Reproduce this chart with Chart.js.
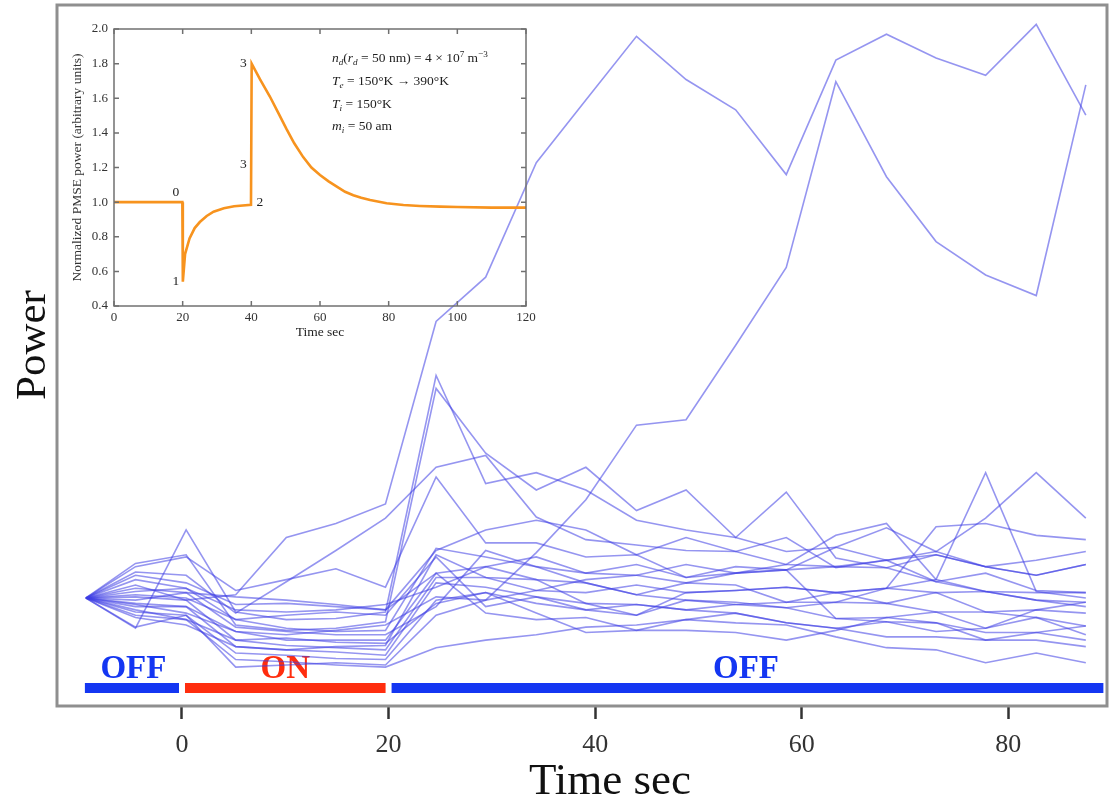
<!DOCTYPE html>
<html><head><meta charset="utf-8">
<script src="https://cdn.jsdelivr.net/npm/chart.js@4.4.1/dist/chart.umd.min.js"></script>
<style>
html,body{margin:0;padding:0;background:#fff;}
#wrap{position:relative;width:1110px;height:798px;overflow:hidden;}
#main{position:absolute;left:0;top:0;}
#inset{position:absolute;left:60px;top:10px;}
</style></head><body>
<div id="wrap"><canvas id="main" width="1110" height="798"></canvas><canvas id="inset" width="480" height="340"></canvas></div>
<script>
// ---------------- data (main panel) ----------------
const times = [-9.3,-4.5,0.4,5.2,10.1,14.9,19.7,24.6,29.4,34.3,39.1,44.0,48.8,53.6,58.5,63.3,68.2,73.0,77.8,82.7,87.5];
const s01 = [1.00,1.12,0.98,1.03,1.56,1.69,1.87,3.56,3.97,5.03,5.61,6.20,5.80,5.52,4.92,5.98,6.22,6.00,5.84,6.31,5.47];
const s02 = [1.00,0.95,0.92,0.69,0.66,0.70,0.75,1.01,0.98,1.42,1.91,2.60,2.65,3.34,4.06,5.78,4.90,4.30,3.99,3.80,5.75];
const s03 = [1.00,0.72,1.63,0.87,0.80,0.81,0.87,3.06,2.06,2.16,2.00,1.72,1.63,1.56,1.43,1.47,1.35,1.43,1.29,1.21,1.31];
const s04 = [1.00,1.32,1.40,0.75,0.70,0.72,0.78,2.94,2.34,2.00,2.21,1.81,2.00,1.56,1.98,1.37,1.28,1.15,1.06,0.98,0.92];
const s05 = [1.00,1.24,1.21,0.86,1.15,1.44,1.74,2.21,2.32,1.75,1.54,1.49,1.44,1.43,1.31,1.29,1.35,1.40,1.29,1.21,1.31];
const s06 = [1.00,1.29,1.38,1.07,1.17,1.27,1.10,2.12,1.51,1.51,1.38,1.40,1.19,1.29,1.26,1.47,1.65,1.43,1.74,2.16,1.74];
const s07 = [1.00,1.09,1.05,1.01,0.98,0.94,0.89,1.23,1.29,1.17,1.14,1.03,1.14,1.12,0.96,1.05,1.09,1.17,2.16,1.06,1.00];
const s08 = [1.00,1.17,1.09,0.80,0.72,0.69,0.70,1.46,1.38,1.29,1.23,1.31,1.19,1.23,1.31,1.58,1.69,1.17,1.06,0.98,0.96];
const s09 = [1.00,1.01,0.98,0.61,0.56,0.54,0.52,1.19,1.19,1.07,1.05,1.12,1.05,1.07,1.10,1.05,1.09,1.66,1.69,1.58,1.54];
const s10 = [1.00,0.84,0.80,0.43,0.41,0.38,0.36,0.54,0.61,0.66,0.73,0.75,0.80,0.77,0.75,0.64,0.54,0.52,0.40,0.49,0.40];
const s11 = [1.00,0.92,0.92,0.55,0.52,0.50,0.47,1.14,1.10,1.01,0.95,0.94,0.89,0.86,0.77,0.72,0.64,0.64,0.61,0.61,0.55];
const s12 = [1.00,0.87,0.84,0.49,0.47,0.44,0.43,0.98,1.05,0.95,0.89,0.84,0.98,0.94,0.91,0.81,0.78,0.77,0.68,0.68,0.61];
const s13 = [1.00,1.06,1.09,0.89,0.87,0.89,0.94,1.10,1.29,1.38,1.23,1.21,1.14,1.23,1.26,1.29,1.28,1.40,1.29,1.35,1.43];
const s14 = [1.00,0.98,1.05,0.73,0.69,0.66,0.66,0.92,1.44,1.29,1.14,1.03,0.98,0.96,0.91,0.96,0.95,1.05,0.87,0.89,0.86];
const s15 = [1.00,0.94,0.86,0.69,0.61,0.61,0.61,1.23,0.86,0.80,0.82,0.70,0.70,0.68,0.61,0.70,0.82,0.87,0.72,0.82,0.74];
const s16 = [1.00,0.82,0.75,0.55,0.52,0.55,0.56,1.40,1.19,1.17,0.95,0.84,1.05,1.07,1.10,1.05,0.95,0.87,0.87,0.82,0.66];
const s17 = [1.00,1.03,1.00,0.80,0.84,0.87,0.84,1.38,0.92,1.01,0.89,0.94,0.89,0.94,0.96,0.96,1.09,1.05,1.06,1.05,1.05];
const s18 = [1.00,0.89,0.80,0.61,0.63,0.59,0.58,0.95,1.05,0.86,0.68,0.70,0.80,0.86,0.77,0.72,0.78,0.69,0.72,0.89,0.96];
const s19 = [1.00,1.21,1.14,0.94,0.95,0.92,0.89,1.44,1.63,1.72,1.63,1.40,1.56,1.43,1.56,1.28,1.35,1.15,1.23,1.07,1.05];
const s20 = [1.00,0.73,0.84,0.36,0.38,0.40,0.38,0.84,0.98,1.07,1.17,1.21,1.31,1.23,1.26,0.81,0.82,0.77,0.61,0.68,0.74];
const allSeries = [s01,s02,s03,s04,s05,s06,s07,s08,s09,s10,s11,s12,s13,s14,s15,s16,s17,s18,s19,s20];
const xTickValues = [0,20,40,60,80];
const xMin = -12.1, xMax = 89.55, yMin = 0, yMax = 6.49;
const phaseBounds = [-9.4, 0, 20, 89.2];
const phaseLabels = ['OFF','ON','OFF'];
const phaseColors = ['#1436f2','#ff2d0e','#1436f2'];
const xTitle = 'Time sec';
const yTitle = 'Power';

// ---------------- data (inset) ----------------
const insetTime  = [0, 19.9, 20.05, 20.7, 22, 23.5, 25, 27, 29, 32, 35, 39.9, 40.1, 42.5, 45.4, 48, 50.3, 52.5, 55.1, 57.5, 60, 62.5, 64.9, 67.3, 69.7, 72, 74.6, 79.4, 84.3, 89.1, 95, 100, 110, 120];
const insetPower = [1.00, 1.00, 0.54, 0.70, 0.79, 0.85, 0.885, 0.92, 0.945, 0.965, 0.976, 0.985, 1.80, 1.71, 1.61, 1.51, 1.42, 1.34, 1.26, 1.20, 1.157, 1.12, 1.09, 1.06, 1.04, 1.025, 1.012, 0.993, 0.983, 0.978, 0.974, 0.972, 0.968, 0.968];
const insetXTicks = [0,20,40,60,80,100,120];
const insetYTicks = [0.4,0.6,0.8,1.0,1.2,1.4,1.6,1.8,2.0];
const markLabels = ['0','1','3','3','2'];
const markT = [18, 18, 37.7, 37.7, 42.5];
const markV = [1.055, 0.54, 1.80, 1.22, 1.0];

const SERIF = '"Liberation Serif","DejaVu Serif",serif';

// ---------------- main chart ----------------
const mainPlugin = {
  id: 'mainDecor',
  beforeDatasetsDraw(chart) {
    const {ctx, chartArea: a, scales: {x}} = chart;
    ctx.save();
    const gap = 3;
    for (let i = 0; i < phaseLabels.length; i++) {
      let x0 = x.getPixelForValue(phaseBounds[i]);
      let x1 = x.getPixelForValue(phaseBounds[i + 1]);
      if (i > 0) x0 += gap;
      if (i < phaseLabels.length - 1) x1 -= gap;
      ctx.fillStyle = phaseColors[i];
      ctx.fillRect(x0, a.bottom - 23, x1 - x0, 10);
      ctx.font = 'bold 33px ' + SERIF;
      ctx.textAlign = 'center';
      ctx.textBaseline = 'alphabetic';
      const mid = x.getPixelForValue((phaseBounds[i] + phaseBounds[i + 1]) / 2);
      ctx.fillText(phaseLabels[i], mid, a.bottom - 28);
    }
    ctx.restore();
  },
  afterDraw(chart) {
    const {ctx, chartArea: a} = chart;
    ctx.save();
    ctx.strokeStyle = '#8f8f8f';
    ctx.lineWidth = 3;
    ctx.strokeRect(a.left, a.top, a.right - a.left, a.bottom - a.top);
    // axis titles
    ctx.fillStyle = '#111';
    ctx.textAlign = 'center';
    ctx.textBaseline = 'alphabetic';
    ctx.font = '45px ' + SERIF;
    ctx.fillText(xTitle, 610, 794);
    ctx.translate(45, 345);
    ctx.rotate(-Math.PI / 2);
    ctx.font = '43px ' + SERIF;
    ctx.fillText(yTitle, 0, 0);
    ctx.restore();
  }
};

new Chart(document.getElementById('main'), {
  type: 'line',
  data: {
    datasets: allSeries.map(s => ({
      data: times.map((t, i) => ({x: t, y: s[i]})),
      borderColor: 'rgba(62,62,228,0.55)',
      borderWidth: 1.6,
      pointRadius: 0,
      tension: 0,
      fill: false
    }))
  },
  options: {
    responsive: false,
    animation: false,
    layout: {padding: {top: 5, right: 3, left: 0, bottom: 0}},
    plugins: {legend: {display: false}, tooltip: {enabled: false}},
    scales: {
      x: {
        type: 'linear', min: xMin, max: xMax,
        afterBuildTicks: ax => { ax.ticks = xTickValues.map(v => ({value: v})); },
        afterFit: ax => { ax.height = 92; },
        ticks: {font: {family: SERIF, size: 26}, color: '#333', padding: 11, autoSkip: false, maxRotation: 0},
        grid: {drawOnChartArea: false, drawTicks: true, tickLength: 13, tickColor: '#333', tickWidth: 2.5},
        border: {display: false},
        title: {display: false}
      },
      y: {
        type: 'linear', min: yMin, max: yMax,
        afterFit: ax => { ax.width = 57; },
        ticks: {display: false},
        grid: {display: false, drawTicks: false},
        border: {display: false},
        title: {display: false}
      }
    }
  },
  plugins: [mainPlugin]
});

// ---------------- inset chart ----------------
function drawRich(ctx, x, y, segs, size) {
  let cx = x;
  for (const sg of segs) {
    const sz = sg.s ? size * 0.68 : size;
    ctx.font = (sg.i ? 'italic ' : '') + sz + 'px ' + SERIF;
    const dy = sg.s === 'sub' ? size * 0.22 : sg.s === 'sup' ? -size * 0.38 : 0;
    ctx.fillText(sg.t, cx, y + dy);
    cx += ctx.measureText(sg.t).width;
  }
}
const paramLines = [
  [{t:'n',i:1},{t:'d',i:1,s:'sub'},{t:'('},{t:'r',i:1},{t:'d',i:1,s:'sub'},{t:' = 50 nm) = 4 \u00d7 10'},{t:'7',s:'sup'},{t:' m'},{t:'\u22123',s:'sup'}],
  [{t:'T',i:1},{t:'e',i:1,s:'sub'},{t:' = 150\u00b0K \u2192 390\u00b0K'}],
  [{t:'T',i:1},{t:'i',i:1,s:'sub'},{t:' = 150\u00b0K'}],
  [{t:'m',i:1},{t:'i',i:1,s:'sub'},{t:' = 50 am'}]
];

const insetPlugin = {
  id: 'insetDecor',
  afterDraw(chart) {
    const {ctx, chartArea: a, scales: {x, y}} = chart;
    ctx.save();
    ctx.strokeStyle = '#707070';
    ctx.lineWidth = 1.5;
    ctx.strokeRect(a.left, a.top, a.right - a.left, a.bottom - a.top);
    ctx.beginPath();
    for (const v of insetXTicks) {
      const px = x.getPixelForValue(v);
      ctx.moveTo(px, a.bottom); ctx.lineTo(px, a.bottom - 5);
      ctx.moveTo(px, a.top); ctx.lineTo(px, a.top + 5);
    }
    for (const v of insetYTicks) {
      const py = y.getPixelForValue(v);
      ctx.moveTo(a.left, py); ctx.lineTo(a.left + 5, py);
      ctx.moveTo(a.right, py); ctx.lineTo(a.right - 5, py);
    }
    ctx.stroke();
    ctx.fillStyle = '#222';
    ctx.font = '13.5px ' + SERIF;
    ctx.textAlign = 'center';
    ctx.textBaseline = 'middle';
    for (let i = 0; i < markLabels.length; i++) {
      ctx.fillText(markLabels[i], x.getPixelForValue(markT[i]), y.getPixelForValue(markV[i]));
    }
    ctx.textAlign = 'left';
    ctx.textBaseline = 'alphabetic';
    const base = [52, 75, 98, 120];
    paramLines.forEach((segs, k) => drawRich(ctx, 272, base[k], segs, 13.5));
    ctx.restore();
  }
};

new Chart(document.getElementById('inset'), {
  type: 'line',
  data: {
    datasets: [{
      data: insetTime.map((t, i) => ({x: t, y: insetPower[i]})),
      borderColor: '#f7931e',
      borderWidth: 2.6,
      pointRadius: 0,
      tension: 0,
      fill: false
    }]
  },
  options: {
    responsive: false,
    animation: false,
    layout: {padding: {top: 19, right: 14, left: 0, bottom: 0}},
    plugins: {legend: {display: false}, tooltip: {enabled: false}},
    scales: {
      x: {
        type: 'linear', min: 0, max: 120,
        afterBuildTicks: ax => { ax.ticks = insetXTicks.map(v => ({value: v})); },
        afterFit: ax => { ax.height = 44; },
        ticks: {font: {family: SERIF, size: 13}, color: '#333', padding: 4, autoSkip: false, maxRotation: 0},
        grid: {display: false, drawTicks: false},
        border: {display: false},
        title: {display: true, text: 'Time sec', color: '#222', font: {family: SERIF, size: 13.5, lineHeight: 1.2}, padding: {top: 0, bottom: 9}}
      },
      y: {
        type: 'linear', min: 0.4, max: 2.0,
        afterBuildTicks: ax => { ax.ticks = insetYTicks.map(v => ({value: v})); },
        afterFit: ax => { ax.width = 54; },
        ticks: {font: {family: SERIF, size: 13}, color: '#333', padding: 6, autoSkip: false, callback: v => Number(v).toFixed(1)},
        grid: {display: false, drawTicks: false},
        border: {display: false},
        title: {display: true, text: 'Normalized PMSE power (arbitrary units)', color: '#333', font: {family: SERIF, size: 13.5, lineHeight: 1.2}, padding: {top: 9, bottom: 0}}
      }
    }
  },
  plugins: [insetPlugin]
});
</script>
</body></html>
